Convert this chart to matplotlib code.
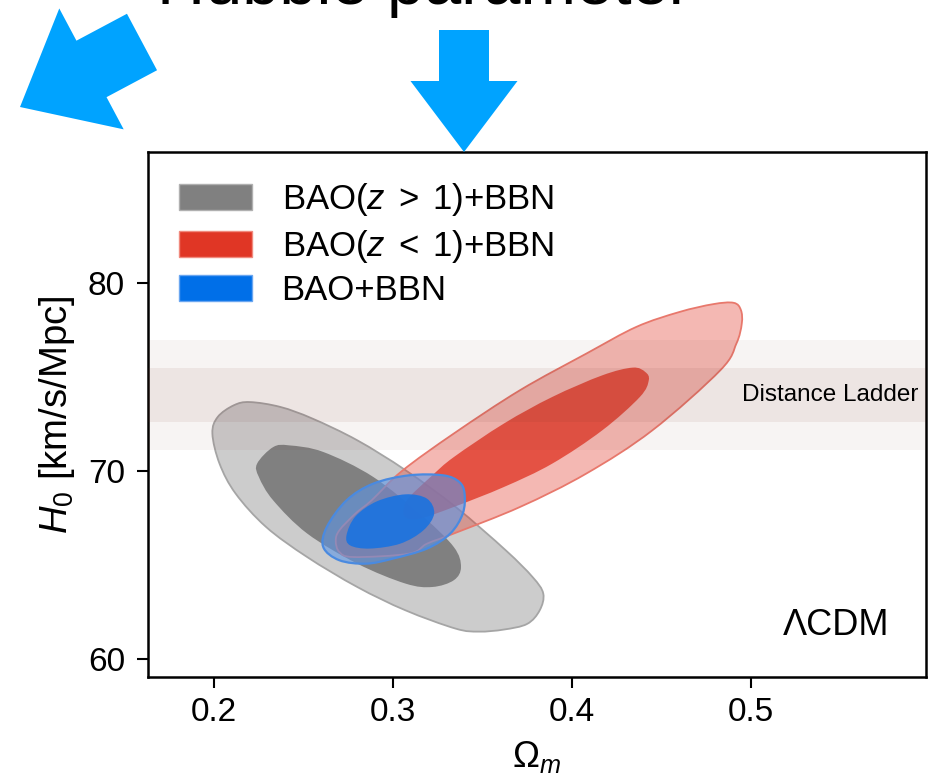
import matplotlib
matplotlib.use('Agg')
import matplotlib.pyplot as plt
import matplotlib.transforms as mtransforms
import numpy as np
from matplotlib.path import Path
from matplotlib.patches import PathPatch, FancyArrow, Patch

plt.rcParams['font.family'] = ['Liberation Sans', 'DejaVu Sans']
plt.rcParams['mathtext.fontset'] = 'custom'
plt.rcParams['mathtext.rm'] = 'Liberation Sans'
plt.rcParams['mathtext.it'] = 'Liberation Sans:italic'
plt.rcParams['mathtext.bf'] = 'Liberation Sans:bold'

# contour outlines (Omega_m, H0), 2-sigma and 1-sigma
gray_outer_om = [0.199, 0.202, 0.211, 0.220, 0.237, 0.255, 0.280, 0.307, 0.335, 0.363,
                 0.378, 0.384, 0.382, 0.375, 0.362, 0.348, 0.335, 0.307, 0.280, 0.252,
                 0.229, 0.212, 0.203]
gray_outer_h0 = [71.99, 72.87, 73.49, 73.66, 73.40, 72.78, 71.63, 70.04, 68.09, 65.79,
                 64.37, 63.49, 62.60, 61.88, 61.58, 61.47, 61.63, 62.60, 63.84, 65.43,
                 67.03, 68.80, 70.39]
gray_inner_om = [0.224, 0.233, 0.242, 0.261, 0.289, 0.317, 0.334, 0.338, 0.334, 0.322,
                 0.307, 0.280, 0.252, 0.233, 0.225]
gray_inner_h0 = [70.39, 71.27, 71.36, 71.01, 69.68, 67.56, 65.96, 64.90, 64.20, 63.84,
                 64.02, 65.08, 66.68, 68.44, 69.68]

red_outer_om = [0.4905, 0.4945, 0.495, 0.492, 0.483, 0.445, 0.408, 0.371, 0.334, 0.319,
                0.309, 0.278, 0.270, 0.268, 0.270, 0.279, 0.288, 0.305, 0.334, 0.371,
                0.408, 0.436, 0.460, 0.479]
red_outer_h0 = [78.93, 78.55, 77.83, 76.77, 75.35, 72.16, 69.86, 68.09, 66.68, 66.14,
                65.61, 65.43, 65.70, 66.30, 66.85, 67.74, 68.44, 70.00, 71.99, 74.29,
                76.23, 77.65, 78.44, 78.86]
red_inner_om = [0.434, 0.441, 0.443, 0.438, 0.417, 0.389, 0.362, 0.334, 0.315, 0.307,
                0.306, 0.309, 0.322, 0.334, 0.362, 0.389, 0.417]
red_inner_h0 = [75.49, 75.26, 74.82, 73.93, 72.16, 70.39, 69.15, 68.09, 67.47, 67.54,
                68.02, 68.60, 69.77, 70.74, 72.52, 73.93, 75.08]

blue_outer_om = [0.270, 0.261, 0.263, 0.274, 0.289, 0.309, 0.328, 0.337, 0.340, 0.339,
                 0.332, 0.319, 0.300, 0.285]
blue_outer_h0 = [65.26, 65.96, 67.03, 68.44, 69.33, 69.77, 69.77, 69.42, 68.80, 67.74,
                 66.68, 65.88, 65.35, 65.08]
blue_inner_om = [0.274, 0.279, 0.291, 0.307, 0.319, 0.323, 0.317, 0.304, 0.287, 0.276]
blue_inner_h0 = [66.59, 67.59, 68.39, 68.76, 68.53, 67.74, 66.85, 66.14, 65.88, 66.05]

# distance ladder H0 measurement
ladder_h0 = 74.03
ladder_sigma = 1.45

labels = [r'BAO($z\;>\;1$)+BBN', r'BAO($z\;<\;1$)+BBN', 'BAO+BBN']
xticks = [0.2, 0.3, 0.4, 0.5]
yticks = [60, 70, 80]


def smooth_closed(xs, ys):
    # closed Catmull-Rom curve through the outline points, as cubic Beziers
    p = np.column_stack([xs, ys])
    n = len(p)
    verts = [p[0]]
    codes = [Path.MOVETO]
    for i in range(n):
        p0, p1, p2, p3 = p[i - 1], p[i], p[(i + 1) % n], p[(i + 2) % n]
        verts += [p1 + (p2 - p0) / 6, p2 - (p3 - p1) / 6, p2]
        codes += [Path.CURVE4] * 3
    verts.append(p[0])
    codes.append(Path.CLOSEPOLY)
    return Path(verts, codes)


fig = plt.figure(figsize=(9.3, 7.83), dpi=100)
ax = fig.add_axes([148 / 930, 1 - 677 / 783, 778 / 930, 525 / 783])

ax.add_patch(PathPatch(smooth_closed(gray_outer_om, gray_outer_h0), facecolor='#cccccc',
                       edgecolor='#a5a5a5', lw=1.3, zorder=1))
ax.add_patch(PathPatch(smooth_closed(gray_inner_om, gray_inner_h0), facecolor='#808080',
                       edgecolor='none', zorder=1.1))
ax.add_patch(PathPatch(smooth_closed(red_outer_om, red_outer_h0), facecolor='#e03625',
                       alpha=0.35, edgecolor='none', zorder=2))
ax.add_patch(PathPatch(smooth_closed(red_outer_om, red_outer_h0), facecolor='none',
                       edgecolor='#e8786c', lw=1.3, zorder=2.05))
ax.add_patch(PathPatch(smooth_closed(red_inner_om, red_inner_h0), facecolor='#e03625',
                       alpha=0.78, edgecolor='none', zorder=2.1))
ax.add_patch(PathPatch(smooth_closed(blue_outer_om, blue_outer_h0), facecolor='#5c95e6',
                       alpha=0.6, edgecolor='none', zorder=3))
ax.add_patch(PathPatch(smooth_closed(blue_outer_om, blue_outer_h0), facecolor='none',
                       edgecolor='#4a8ae0', lw=1.6, zorder=3.05))
ax.add_patch(PathPatch(smooth_closed(blue_inner_om, blue_inner_h0), facecolor='#1a73e0',
                       alpha=0.9, edgecolor='none', zorder=3.1))

# distance ladder bands (1 and 2 sigma)
ax.axhspan(ladder_h0 - 2 * ladder_sigma, ladder_h0 + 2 * ladder_sigma,
           color='#712f26', alpha=0.05, lw=0, zorder=4)
ax.axhspan(ladder_h0 - ladder_sigma, ladder_h0 + ladder_sigma,
           color='#712f26', alpha=0.075, lw=0, zorder=4)
ax.text(0.99, ladder_h0, 'Distance Ladder', transform=ax.get_yaxis_transform(),
        ha='right', va='center', fontsize=17.5, zorder=5)

ax.text(0.953, 0.08, '\u039bCDM', transform=ax.transAxes, ha='right', va='baseline',
        fontsize=26, zorder=5)

ax.set_xlim(0.163, 0.598)
ax.set_ylim(59.06, 86.94)
ax.set_xticks(xticks)
ax.set_yticks(yticks)
ax.set_xticklabels([f'{t:.1f}' for t in xticks])
ax.tick_params(direction='out', length=8, width=1.5, labelsize=24)
ax.tick_params(axis='x', pad=6.5)
ax.tick_params(axis='y', pad=8.5)
for s in ax.spines.values():
    s.set_linewidth(1.8)

ax.set_xlabel(r'$\Omega_m$', fontsize=26, labelpad=8)
ax.set_ylabel(r'$H_0$ [km/s/Mpc]', fontsize=27.5, labelpad=8)

colors = [('#808080', '#b0b0b0'), ('#e03625', '#f08a7e'), ('#006fe8', '#6aa6f0')]
handles = [Patch(facecolor=fc, edgecolor=ec, lw=1) for fc, ec in colors]
ax.legend(handles, labels, loc='upper left', bbox_to_anchor=(0.04, 0.944),
          frameon=False, fontsize=25, handlelength=2.1, handleheight=0.78,
          handletextpad=0.85, labelspacing=0.27, borderpad=0, borderaxespad=0)

# slide decorations: heading and pointer arrows, in pixel coordinates
px = mtransforms.Affine2D().scale(1 / 930, -1 / 783).translate(0, 1) + fig.transFigure
fig.text(424 / 930, 1 - 4 / 783, 'Hubble parameter', ha='center', va='baseline',
         fontsize=48)
fig.add_artist(FancyArrow(464, 30, 0, 122, width=50, head_width=107, head_length=71,
                          length_includes_head=True, color='#00a3ff', lw=0,
                          transform=px))
fig.add_artist(FancyArrow(142, 42, -122, 65, width=64, head_width=137, head_length=81,
                          length_includes_head=True, color='#00a3ff', lw=0,
                          transform=px))

fig.savefig('out.png', dpi=100)
